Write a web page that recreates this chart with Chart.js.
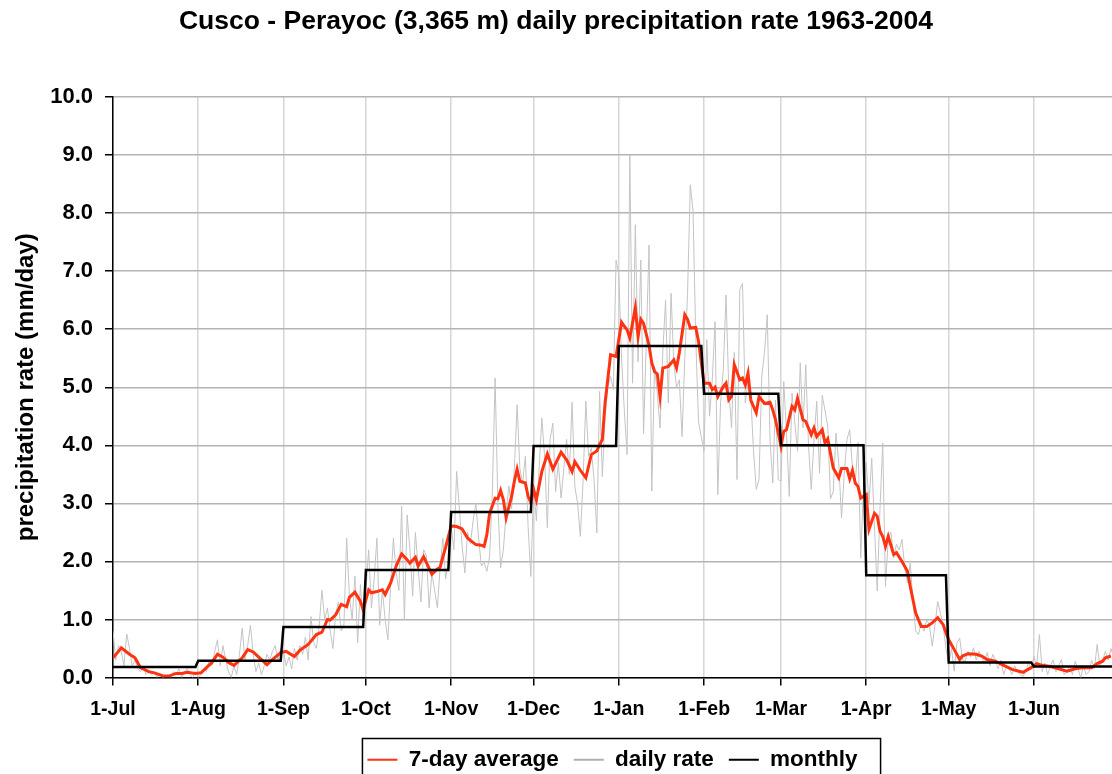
<!DOCTYPE html>
<html>
<head>
<meta charset="utf-8">
<script src="https://cdn.jsdelivr.net/npm/chart.js@4/dist/chart.umd.min.js"></script>
<style>
  html, body { margin: 0; padding: 0; background: #fff; overflow: hidden; }
</style>
</head>
<body>
<canvas id="chart" width="1112" height="781"></canvas>
<script>
// day index counted from 1-Jul
const monthStarts = [0, 31, 62, 92, 123, 153, 184, 215, 243, 274, 304, 335, 365];
const monthLabels = ['1-Jul', '1-Aug', '1-Sep', '1-Oct', '1-Nov', '1-Dec', '1-Jan', '1-Feb', '1-Mar', '1-Apr', '1-May', '1-Jun'];
const monthlyRate = [0.18, 0.29, 0.87, 1.85, 2.85, 3.99, 5.71, 4.89, 4.00, 1.76, 0.26, 0.19];

// daily rate, one value per day
const dailyJul = [0.8,0.3,0.55,0.45,0.2,0.75,0.5,0.2,0.3,0.15,0.1,0.2,0.05,0.1,0.05,0.1,0.0,0.05,0.0,0.02,0.05,0.0,0.1,0.05,0.15,0.0,0.1,0.15,0.05,0.0,0.1];
const dailyAug = [0.0,0.05,0.15,0.1,0.3,0.2,0.45,0.65,0.2,0.55,0.3,0.1,0.0,0.2,0.05,0.4,0.85,0.3,0.55,0.9,0.4,0.1,0.25,0.05,0.2,0.4,0.3,0.45,0.55,0.3,0.5];
const dailySep = [0.45,0.2,0.35,0.15,0.5,0.3,0.55,0.4,0.7,0.3,1.05,0.6,0.5,0.9,1.5,1.0,1.2,0.8,0.5,1.1,1.3,0.8,0.9,2.4,1.4,1.0,1.75,0.6,1.6,0.9];
const dailyOct = [1.5,2.2,1.2,1.7,2.4,0.9,1.5,1.0,0.65,1.6,2.4,1.8,1.5,2.95,1.0,2.8,2.2,1.4,2.5,1.9,1.3,2.2,2.1,1.2,1.8,1.5,1.2,1.9,2.4,1.7,2.0];
const dailyNov = [2.6,2.2,3.55,2.9,2.26,1.8,2.5,2.3,2.7,3.0,2.4,1.92,1.98,1.83,2.09,3.2,5.16,3.0,1.89,2.2,2.83,3.3,2.9,3.6,4.7,3.6,3.35,3.81,2.6,1.74];
const dailyDec = [3.29,2.7,3.6,4.47,3.8,2.58,4.1,4.38,3.2,3.7,3.09,3.6,4.1,3.5,4.74,3.29,3.0,2.43,3.4,4.76,3.81,3.95,3.4,2.49,4.93,3.46,4.5,5.0,5.19,4.96,7.19];
const dailyJan = [6.94,5.5,4.6,3.84,9.0,5.07,7.8,5.44,7.19,4.2,5.8,7.45,3.21,5.36,4.9,4.3,5.6,6.5,4.73,6.62,5.42,5.0,5.13,4.15,5.5,6.62,8.49,8.03,5.82,4.4,4.15];
const dailyFeb = [3.9,5.82,4.5,5.13,6.13,3.15,4.73,5.3,6.59,4.96,4.3,5.6,3.41,6.68,6.79,4.73,5.1,4.84,3.9,3.24,3.41,5.19,5.6,6.25,4.1,3.35,4.78,3.41];
const dailyMar = [3.38,5.1,4.2,3.12,4.9,4.4,3.9,5.42,4.3,5.39,4.0,3.24,4.1,4.76,3.52,4.86,4.6,4.33,3.08,3.2,4.21,3.7,2.75,3.5,4.1,4.27,3.6,3.35,4.05,2.06,3.3];
const dailyApr = [3.7,3.0,3.78,2.6,1.49,2.9,4.04,1.57,2.38,2.5,2.06,2.3,2.2,2.38,1.9,1.63,1.97,1.3,0.8,0.74,0.94,0.8,1.0,0.9,0.54,0.9,1.31,1.1,0.88,0.5];
const dailyMay = [0.22,0.5,0.11,0.6,0.68,0.3,0.28,0.45,0.35,0.51,0.3,0.45,0.35,0.25,0.43,0.2,0.4,0.3,0.15,0.3,0.05,0.2,0.15,0.05,0.2,0.1,0.05,0.02,0.1,0.25,0.15];
const dailyJun = [0.37,0.2,0.74,0.1,0.25,0.05,0.2,0.3,0.1,0.2,0.31,0.05,0.1,0.2,0.05,0.28,0.15,0.0,0.2,0.05,0.1,0.3,0.15,0.57,0.2,0.3,0.45,0.3,0.5,0.35];

// 7-day average
const avgDays = [0,2,3,6,8,10,13,15,18,20,23,25,27,30,32,34,36,38,40,42,44,47,49,51,53,56,58,61,63,66,68,71,74,76,78,79,81,83,85,86,88,90,91,93,94,96,98,99,101,103,105,107,108,110,111,113,116,118,119,120,121,123,125,127,129,132,134,135,136,137,139,140,141,142,143,145,146,147,148,150,151,152,153,154,156,158,160,163,165,167,168,170,172,174,176,177,178,179,181,183,185,186,187,188,190,191,192,193,195,196,197,198,199,200,202,204,205,206,208,209,210,212,213,214,215,217,218,219,220,222,223,224,225,226,228,229,230,231,232,234,235,237,239,240,241,243,244,245,247,248,249,251,252,254,255,256,258,259,260,262,264,265,267,268,269,270,271,272,274,275,277,278,279,280,281,282,284,285,287,289,290,291,292,294,296,298,300,302,303,304,306,308,309,311,314,316,318,321,324,327,331,334,336,338,341,344,347,350,353,356,358,360,361,363];
const avgRate = [0.34,0.45,0.51,0.40,0.34,0.17,0.10,0.08,0.03,0.02,0.07,0.07,0.09,0.07,0.08,0.17,0.26,0.40,0.35,0.26,0.21,0.34,0.48,0.44,0.35,0.22,0.31,0.43,0.45,0.36,0.47,0.57,0.74,0.78,1.00,0.99,1.08,1.26,1.22,1.38,1.47,1.31,1.17,1.51,1.46,1.48,1.51,1.43,1.63,1.92,2.13,2.03,1.97,2.07,1.92,2.08,1.78,1.87,1.90,2.08,2.24,2.61,2.60,2.56,2.40,2.29,2.28,2.26,2.46,2.83,3.09,3.08,3.22,3.06,2.75,3.12,3.38,3.59,3.38,3.35,3.12,3.01,3.24,3.06,3.55,3.85,3.59,3.88,3.75,3.55,3.72,3.57,3.44,3.84,3.90,4.01,4.10,4.73,5.56,5.53,6.12,6.05,5.99,5.85,6.37,5.87,6.17,6.10,5.72,5.42,5.27,5.23,4.84,5.33,5.36,5.47,5.33,5.59,6.25,6.17,6.02,6.03,5.79,5.42,5.07,5.07,4.96,5.00,4.84,5.01,5.07,4.78,4.84,5.39,5.13,5.16,5.04,5.24,4.78,4.56,4.84,4.72,4.74,4.61,4.44,3.98,4.24,4.27,4.67,4.61,4.81,4.44,4.41,4.18,4.30,4.15,4.27,4.04,4.11,3.61,3.44,3.60,3.60,3.42,3.57,3.35,3.29,3.09,3.15,2.55,2.83,2.78,2.52,2.43,2.26,2.43,2.12,2.15,2.00,1.83,1.57,1.34,1.11,0.88,0.88,0.94,1.03,0.91,0.77,0.65,0.48,0.31,0.37,0.41,0.40,0.37,0.31,0.28,0.21,0.14,0.09,0.17,0.24,0.21,0.19,0.15,0.11,0.15,0.17,0.17,0.24,0.28,0.34,0.37];

const yTicks = [0, 1, 2, 3, 4, 5, 6, 7, 8, 9, 10];

const dailyRate = [].concat(dailyJul, dailyAug, dailySep, dailyOct, dailyNov, dailyDec,
  dailyJan, dailyFeb, dailyMar, dailyApr, dailyMay, dailyJun);
const dailyPoints = dailyRate.map((v, i) => ({ x: i, y: v }));
const avgPoints = avgDays.map((d, i) => ({ x: d, y: avgRate[i] }));
const monthlyPoints = [];
monthlyRate.forEach((v, i) => {
  monthlyPoints.push({ x: monthStarts[i], y: v });
  monthlyPoints.push({ x: monthStarts[i + 1] - 1, y: v });
});

const FONT = "'Liberation Sans', Arial, sans-serif";

// box round the legend, open at the bottom like the original
const legendFrame = {
  id: 'legendFrame',
  afterDraw(chart) {
    const lg = chart.legend;
    const boxes = lg.legendHitBoxes;
    if (!boxes || !boxes.length) return;
    const first = boxes[0], last = boxes[boxes.length - 1];
    const ctx = chart.ctx;
    ctx.save();
    ctx.strokeStyle = '#000';
    ctx.lineWidth = 1.5;
    ctx.strokeRect(first.left - 5, lg.top + 5, last.left + last.width + 23 - (first.left - 5), 60);
    ctx.restore();
  }
};

new Chart(document.getElementById('chart'), {
  type: 'line',
  data: {
    datasets: [
      { label: '7-day average', data: avgPoints, borderColor: '#ff3311', backgroundColor: '#ff3311',
        borderWidth: 3, pointRadius: 0, tension: 0, order: 2 },
      { label: 'daily rate', data: dailyPoints, borderColor: '#c4c4c4', backgroundColor: '#b0b0b0',
        borderWidth: 1, pointRadius: 0, tension: 0, order: 3 },
      { label: 'monthly', data: monthlyPoints, borderColor: '#000', backgroundColor: '#000',
        borderWidth: 2.5, pointRadius: 0, tension: 0, order: 1 }
    ]
  },
  options: {
    responsive: false,
    animation: false,
    devicePixelRatio: 1,
    layout: { padding: { left: 0, right: 0, top: 0, bottom: 0 } },
    plugins: {
      title: {
        display: true,
        text: 'Cusco - Perayoc (3,365 m) daily precipitation rate 1963-2004',
        color: '#000',
        font: { family: FONT, size: 26.5, weight: 'bold' },
        padding: { top: 6, bottom: 59.2 }
      },
      legend: {
        position: 'bottom',
        fullSize: false,
        labels: {
          color: '#000',
          font: { family: FONT, size: 22.5, weight: 'bold' },
          boxWidth: 30,
          boxHeight: 2,
          padding: 15,
          sort: (a, b) => a.datasetIndex - b.datasetIndex,
          generateLabels: (chart) =>
            Chart.defaults.plugins.legend.labels.generateLabels(chart)
              .map(item => Object.assign(item, { lineWidth: 0 }))
        }
      },
      tooltip: { enabled: false }
    },
    scales: {
      x: {
        type: 'linear',
        min: 0,
        max: 363.4,
        afterBuildTicks: (scale) => { scale.ticks = monthStarts.slice(0, 12).map(v => ({ value: v })); },
        afterFit: (scale) => { scale.height = 56; },
        ticks: {
          color: '#000',
          font: { family: FONT, size: 19.5, weight: 'bold' },
          padding: 12,
          maxRotation: 0,
          autoSkip: false,
          callback: (v) => monthLabels[monthStarts.indexOf(v)]
        },
        grid: { color: '#d6d6d6', lineWidth: 1.5, tickLength: 8, tickColor: '#000' },
        border: { color: '#000', width: 1.5 }
      },
      y: {
        min: 0,
        max: 10,
        afterBuildTicks: (scale) => { scale.ticks = yTicks.map(v => ({ value: v })); },
        afterFit: (scale) => { scale.width = 113; },
        ticks: {
          color: '#000',
          font: { family: FONT, size: 22, weight: 'bold' },
          padding: 12,
          callback: (v) => v.toFixed(1)
        },
        grid: { color: '#b4b4b4', lineWidth: 1.5, tickLength: 8, tickColor: '#000' },
        border: { color: '#000', width: 1.5 },
        title: {
          display: true,
          text: 'precipitation rate (mm/day)',
          color: '#000',
          font: { family: FONT, size: 24, weight: 'bold' },
          padding: { top: 12, bottom: 0 }
        }
      }
    }
  },
  plugins: [legendFrame]
});
</script>
</body>
</html>
